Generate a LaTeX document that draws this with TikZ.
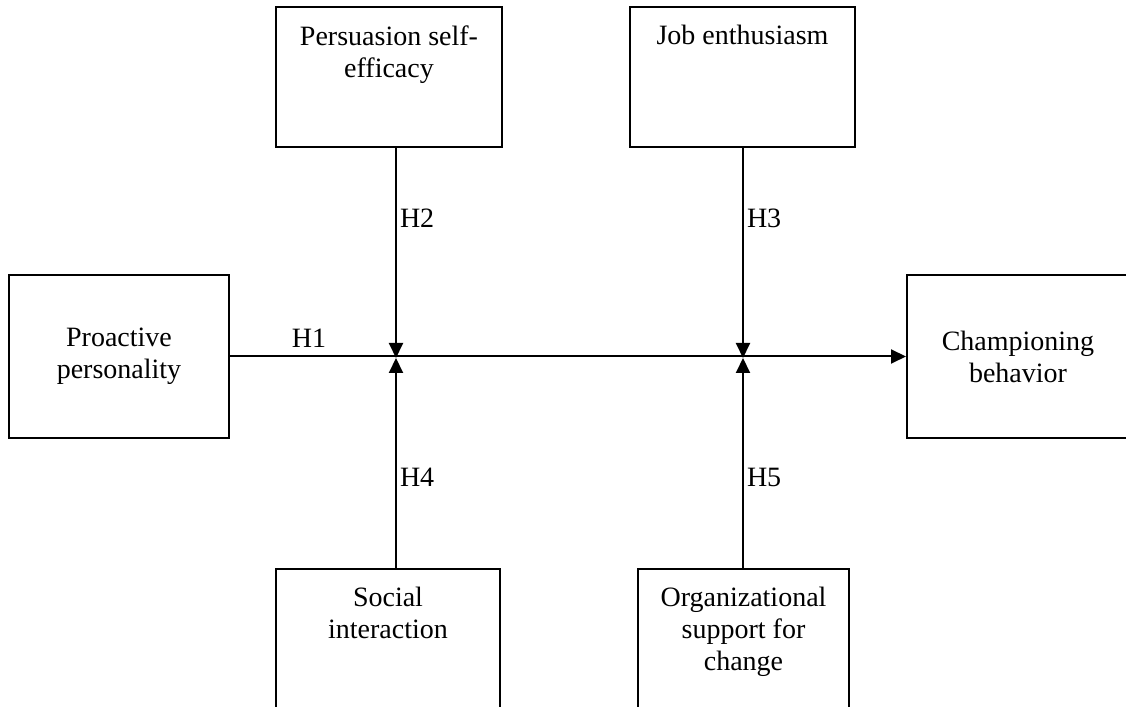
\documentclass[tikz,border=0pt]{standalone}
\usepackage{fontspec}
\setmainfont{Liberation Serif}
\usetikzlibrary{arrows.meta, positioning, calc}

\begin{document}
\begin{tikzpicture}[x=0.5pt, y=0.5pt,
  font=\fontsize{14pt}{16pt}\selectfont,
  var/.style={draw, line width=1pt, inner sep=0pt},
  vtxt/.style={align=center, inner sep=0pt},
  link/.style={draw=black, line width=1pt, -{Triangle[length=7.5pt, width=7pt]}},
  hyp/.style={inner sep=1.5pt}]
  \clip (0,0) rectangle (1126,707);
  % predictor and outcome
  \node[var, align=center, minimum width=110pt, minimum height=81.5pt] (pp) at (119,350.5) {Proactive\\personality};
  \node[var, align=center, minimum width=111pt, minimum height=81.5pt] (cb) at (1018,350.5) {Championing\\behavior};
  % moderators
  \node[var, minimum width=113pt, minimum height=70pt] (pse) at (389,630) {};
  \node[var, minimum width=112.5pt, minimum height=70pt] (je) at (742.5,630) {};
  \node[var, minimum width=112pt, minimum height=70pt] (si) at (388,68) {};
  \node[var, minimum width=105.5pt, minimum height=70pt] (osc) at (743.5,68) {};
  \node[vtxt, below=9.5pt of pse.north] (pset) {Persuasion self-\\efficacy};
  \node[vtxt, below=9.5pt of je.north] (jet) {Job enthusiasm};
  \node[vtxt, below=9.5pt of si.north] (sit) {Social\\interaction};
  \node[vtxt, below=9.5pt of osc.north] (osct) {Organizational\\support for\\change};
  \coordinate (j1) at (396,349);
  \coordinate (j2) at (743,349);
  \draw[link] (pp) -- node[hyp, above=2.5pt, pos=0.117] {H1} (cb);
  \draw[link] (pse.south -| j1) -- node[hyp, right, pos=0.336] {H2} (j1);
  \draw[link] (je.south -| j2) -- node[hyp, right, pos=0.336] {H3} (j2);
  \draw[link] (si.north -| j1) -- node[hyp, right, pos=0.43] {H4} (j1);
  \draw[link] (osc.north -| j2) -- node[hyp, right, pos=0.43] {H5} (j2);
\end{tikzpicture}
\end{document}
